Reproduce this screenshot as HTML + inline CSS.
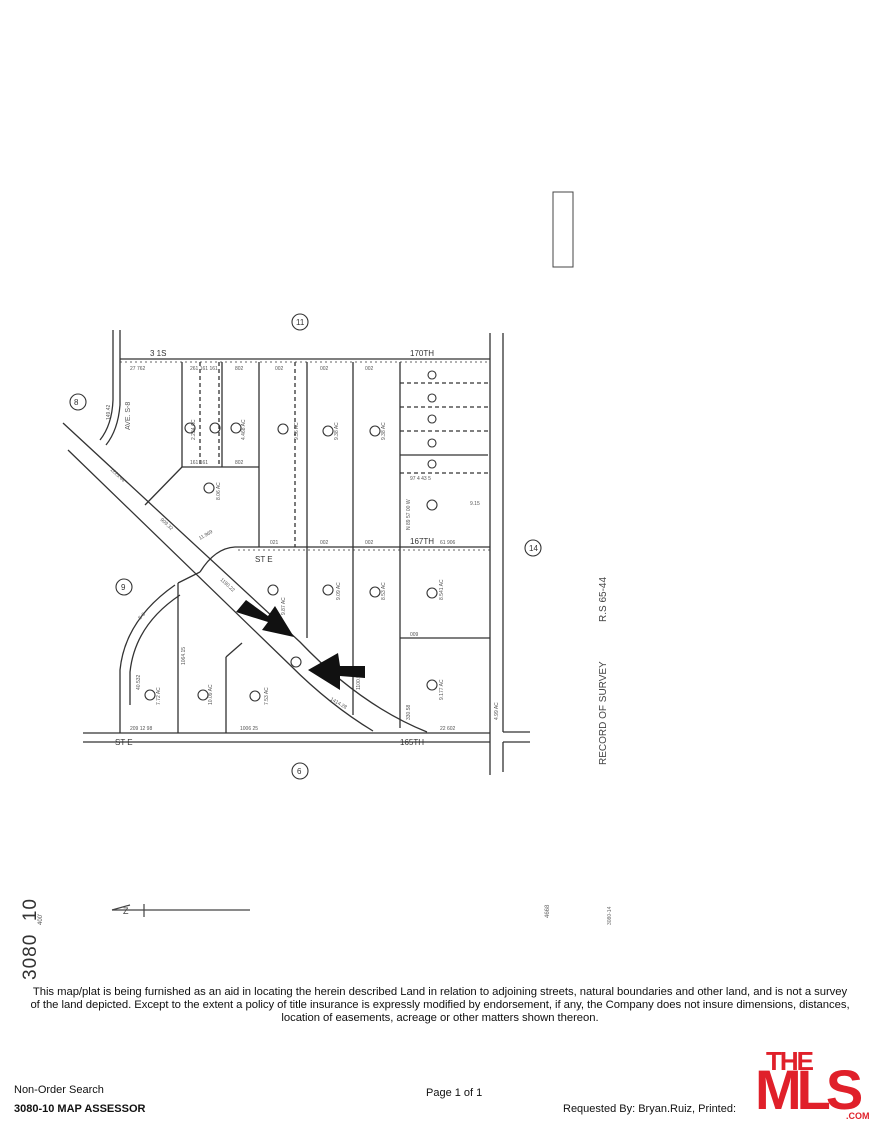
<!DOCTYPE html>
<html><head><meta charset="utf-8"><style>
html,body{margin:0;padding:0;background:#fff;}
body{width:880px;height:1140px;position:relative;overflow:hidden;font-family:"Liberation Sans",sans-serif;color:#111;}
.t{position:absolute;white-space:nowrap;}
</style></head><body>
<svg width="880" height="1140" style="position:absolute;left:0;top:0" xmlns="http://www.w3.org/2000/svg">
<g fill="none" stroke="#333" stroke-width="1.3">
<line x1="120" y1="359" x2="490" y2="359"/>
<line x1="120" y1="362" x2="490" y2="362" stroke-dasharray="2 3" stroke-width="0.8"/>
<line x1="120" y1="330" x2="120" y2="362"/>
<line x1="490" y1="333" x2="490" y2="775"/>
<line x1="503" y1="333" x2="503" y2="732"/>
<line x1="503" y1="742" x2="503" y2="772"/>
<line x1="503" y1="732" x2="530" y2="732"/>
<line x1="503" y1="742" x2="530" y2="742"/>
<line x1="83" y1="733" x2="490" y2="733"/>
<line x1="83" y1="742" x2="490" y2="742"/>
<path d="M113,330 L113,400 Q112,425 100,440"/>
<path d="M120,362 L120,405 Q118,430 106,445"/>
<path d="M68,450 L290,665 Q330,705 373,731"/>
<path d="M63,423 L300,642 Q360,705 427,732"/>
<path d="M490,547 L235,547 Q215,548 200,572"/>
<path d="M490,550 L235,550" stroke-dasharray="2 3" stroke-width="0.8"/>
<line x1="182" y1="362" x2="182" y2="467"/>
<line x1="222" y1="362" x2="222" y2="467"/>
<line x1="200" y1="362" x2="200" y2="467" stroke-dasharray="4 3"/>
<line x1="219" y1="362" x2="219" y2="467" stroke-dasharray="4 3"/>
<line x1="182" y1="467" x2="259" y2="467"/>
<line x1="182" y1="467" x2="145" y2="505"/>
<line x1="259" y1="362" x2="259" y2="547"/>
<line x1="295" y1="362" x2="295" y2="547" stroke-dasharray="4 3"/>
<line x1="307" y1="362" x2="307" y2="638"/>
<line x1="353" y1="362" x2="353" y2="715"/>
<line x1="400" y1="362" x2="400" y2="728"/>
<line x1="400" y1="383" x2="488" y2="383" stroke-dasharray="4 3"/>
<line x1="400" y1="407" x2="488" y2="407" stroke-dasharray="4 3"/>
<line x1="400" y1="431" x2="488" y2="431" stroke-dasharray="4 3"/>
<line x1="400" y1="455" x2="488" y2="455"/>
<line x1="400" y1="473" x2="488" y2="473" stroke-dasharray="4 3"/>
<line x1="400" y1="638" x2="490" y2="638"/>
<line x1="178" y1="583" x2="178" y2="733"/>
<line x1="226" y1="657" x2="226" y2="733"/>
<line x1="226" y1="657" x2="242" y2="643"/>
<path d="M120,733 L120,670 Q125,620 175,585"/>
<path d="M130,705 L130,672 Q135,625 180,595"/>
<path d="M178,583 L200,572"/>
</g>
<g fill="none" stroke="#333" stroke-width="1.1">
<circle cx="300" cy="322" r="8"/><circle cx="78" cy="402" r="8"/>
<circle cx="124" cy="587" r="8"/><circle cx="533" cy="548" r="8"/>
<circle cx="300" cy="771" r="8"/>
<circle cx="432" cy="375" r="4"/><circle cx="432" cy="398" r="4"/><circle cx="432" cy="419" r="4"/><circle cx="432" cy="443" r="4"/><circle cx="432" cy="464" r="4"/>
<circle cx="432" cy="505" r="5"/><circle cx="432" cy="593" r="5"/><circle cx="432" cy="685" r="5"/>
<circle cx="375" cy="592" r="5"/><circle cx="328" cy="590" r="5"/><circle cx="273" cy="590" r="5"/>
<circle cx="328" cy="431" r="5"/><circle cx="375" cy="431" r="5"/><circle cx="283" cy="429" r="5"/>
<circle cx="236" cy="428" r="5"/><circle cx="215" cy="428" r="5"/><circle cx="190" cy="428" r="5"/>
<circle cx="209" cy="488" r="5"/><circle cx="296" cy="662" r="5"/><circle cx="255" cy="696" r="5"/>
<circle cx="203" cy="695" r="5"/><circle cx="150" cy="695" r="5"/>
</g>
<g font-family="Liberation Sans,sans-serif" font-size="8" fill="#333">
<text x="296" y="325">11</text><text x="74" y="405">8</text><text x="121" y="590">9</text>
<text x="529" y="551">14</text><text x="297" y="774">6</text>
<text x="150" y="356">3 1S</text><text x="410" y="356">170TH</text>
<text x="410" y="544">167TH</text><text x="255" y="562">ST E</text>
<text x="115" y="745">ST E</text><text x="400" y="745">165TH</text>
</g>
<g font-family="Liberation Sans,sans-serif" font-size="5" fill="#555">
<text x="190" y="370">261 161 161</text><text x="235" y="370">802</text><text x="275" y="370">002</text>
<text x="320" y="370">002</text><text x="365" y="370">002</text><text x="130" y="370">27 762</text>
<text x="190" y="464">161 161</text><text x="235" y="464">802</text>
<text x="270" y="544">021</text><text x="320" y="544">002</text><text x="365" y="544">002</text><text x="440" y="544">61 906</text>
<text x="130" y="730">209 12 98</text><text x="240" y="730">1006 25</text><text x="440" y="730">22 602</text>
<text x="410" y="480">97 4 43 5</text><text x="410" y="636">009</text><text x="470" y="505">9.15</text>
<text transform="translate(195,440) rotate(-90)">2.234 AC</text><text transform="translate(245,440) rotate(-90)">4.468 AC</text>
<text transform="translate(338,440) rotate(-90)">9.38 AC</text><text transform="translate(385,440) rotate(-90)">9.38 AC</text>
<text transform="translate(340,600) rotate(-90)">9.09 AC</text><text transform="translate(385,600) rotate(-90)">8.53 AC</text>
<text transform="translate(443,600) rotate(-90)">8.541 AC</text><text transform="translate(443,700) rotate(-90)">9.177 AC</text>
<text transform="translate(298,440) rotate(-90)">9.36 AC</text><text transform="translate(220,500) rotate(-90)">8.06 AC</text>
<text transform="translate(410,530) rotate(-90)">N 89 57 00 W</text><text transform="translate(410,720) rotate(-90)">330.58</text>
<text transform="translate(498,720) rotate(-90)">4.99 AC</text><text transform="translate(160,705) rotate(-90)">7.72 AC</text>
<text transform="translate(212,705) rotate(-90)">10.09 AC</text><text transform="translate(268,705) rotate(-90)">7.53 AC</text>
<text transform="translate(285,615) rotate(-90)">9.87 AC</text><text transform="translate(110,420) rotate(-90)">149.42</text>
<text transform="translate(140,690) rotate(-90)">40.532</text><text transform="translate(185,665) rotate(-90)">1064.15</text>
<text transform="translate(360,690) rotate(-90)">1100.53</text>
<text transform="translate(110,470) rotate(43)">1225.44</text><text transform="translate(160,520) rotate(43)">909.32</text>
<text transform="translate(220,580) rotate(43)">1190.22</text><text transform="translate(330,700) rotate(30)">1414.28</text>
<text transform="translate(200,540) rotate(-30)">11.969</text><text transform="translate(140,620) rotate(-45)">S-8</text>
<text transform="translate(130,430) rotate(-90)" font-size="7">AVE.  S-8</text>
</g>
<polygon points="236,612 246,600 268,616 275,606 294,637 262,630 268,622" fill="#111"/>
<polygon points="365,666 365,678 340,676 340,690 308,670 338,653 340,666" fill="#111"/>
<rect x="553" y="192" width="20" height="75" fill="none" stroke="#444" stroke-width="1"/>
<g stroke="#444" stroke-width="1.2" fill="none">
<line x1="112" y1="910" x2="250" y2="910"/><line x1="144" y1="904" x2="144" y2="917"/>
<path d="M112,910 L130,905"/><text x="123" y="914" font-size="9" fill="#444" stroke="none">Z</text>
</g>
</svg>
<div class="t" style="left:598px;top:765px;transform:rotate(-90deg);transform-origin:0 0;font-size:10px;color:#444">RECORD OF SURVEY</div>
<div class="t" style="left:598px;top:622px;transform:rotate(-90deg);transform-origin:0 0;font-size:10px;color:#444">R.S 65-44</div>
<div class="t" style="left:20px;top:980px;transform:rotate(-90deg);transform-origin:0 0;font-size:19px;color:#333;letter-spacing:1px">3080&nbsp;&nbsp;10</div>
<div class="t" style="left:38px;top:925px;transform:rotate(-90deg);transform-origin:0 0;font-size:6px;color:#555">400'</div>
<div class="t" style="left:545px;top:918px;transform:rotate(-90deg);transform-origin:0 0;font-size:6px;color:#666">4668</div>
<div class="t" style="left:607px;top:925px;transform:rotate(-90deg);transform-origin:0 0;font-size:5px;color:#666">3080-14</div>
<div class="t" style="left:0;top:986px;width:880px;text-align:center;font-size:11.3px;line-height:13px;white-space:normal;letter-spacing:-0.05px">This map/plat is being furnished as an aid in locating the herein described Land in relation to adjoining streets, natural boundaries and other land, and is not a survey<br>of the land depicted. Except to the extent a policy of title insurance is expressly modified by endorsement, if any, the Company does not insure dimensions, distances,<br>location of easements, acreage or other matters shown thereon.</div>
<div class="t" style="left:14px;top:1084px;font-size:11px">Non-Order Search</div>
<div class="t" style="left:14px;top:1103px;font-size:11px;font-weight:bold">3080-10 MAP ASSESSOR</div>
<div class="t" style="left:426px;top:1087px;font-size:11px">Page 1 of 1</div>
<div class="t" style="left:563px;top:1103px;font-size:11px">Requested By: Bryan.Ruiz, Printed:</div>
<div class="t" style="left:766px;top:1046px;font-size:26px;font-weight:bold;color:#e0202a;letter-spacing:-2px">THE</div>
<div class="t" style="left:755px;top:1062px;font-size:56px;line-height:56px;font-weight:bold;color:#e0202a;letter-spacing:-5px">MLS</div>
<div class="t" style="left:846px;top:1111px;font-size:9px;font-weight:bold;color:#e0202a">.COM</div>
</body></html>
